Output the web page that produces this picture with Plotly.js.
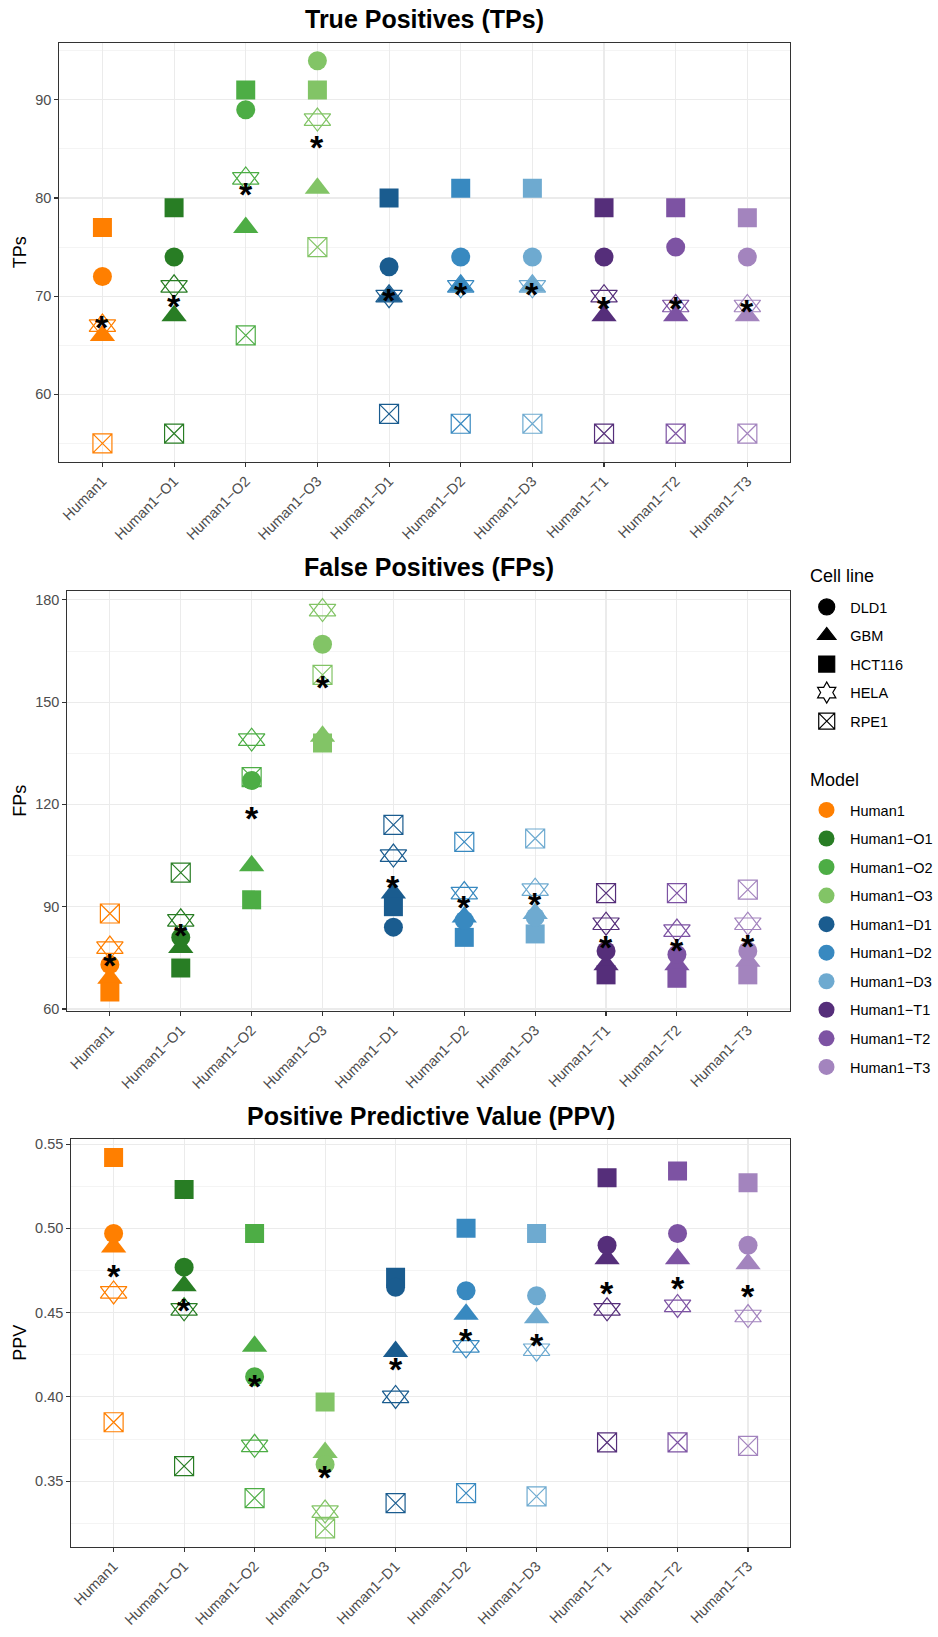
<!DOCTYPE html>
<html><head><meta charset="utf-8">
<script src="https://cdn.plot.ly/plotly-3.0.1.min.js"></script>
<style>html,body{margin:0;padding:0;background:#fff}</style>
</head><body><div id="chart" style="width:938px;height:1637px"></div>
<script>
// ---------------- data ----------------
const models = ["Human1","Human1\u2212O1","Human1\u2212O2","Human1\u2212O3","Human1\u2212D1","Human1\u2212D2","Human1\u2212D3","Human1\u2212T1","Human1\u2212T2","Human1\u2212T3"];
const modelColors = ["#FF7F00","#287D24","#4DAD45","#82C466","#1A5C8F","#3889C0","#6EAAD0","#552E7A","#7D53A3","#A384BE"];
const cellLines = ["DLD1","GBM","HCT116","HELA","RPE1"];

// True positives
const tpDLD1   = [72,74,89,94,73,74,74,74,75,74];
const tpGBM    = [66,68,77,81,70,71,71,68,68,68];
const tpHCT116 = [77,79,91,91,80,81,81,79,79,78];
const tpHELA   = [67,71,82,88,70,71,71,70,69,69];
const tpRPE1   = [55,56,66,75,58,57,57,56,56,56];
const tpMean   = [67.4,69.6,81.0,85.8,70.2,70.8,70.8,69.4,69.4,69.0];

// False positives
const fpDLD1   = [73,81,127,167,84,86,87,77,76,77];
const fpGBM    = [69,78,102,140,94,87,88,73,73,74];
const fpHCT116 = [65,72,92,138,90,81,82,70,69,70];
const fpHELA   = [78,86,139,177,105,94,95,85,83,85];
const fpRPE1   = [88,100,128,158,114,109,110,94,94,95];
const fpMean   = [74.6,83.4,117.6,156.0,97.4,91.4,92.4,79.8,79.0,80.2];

// Positive predictive value
const ppvDLD1   = [0.497,0.477,0.412,0.360,0.465,0.463,0.460,0.490,0.497,0.490];
const ppvGBM    = [0.489,0.466,0.430,0.367,0.427,0.449,0.447,0.482,0.482,0.479];
const ppvHCT116 = [0.542,0.523,0.497,0.397,0.471,0.500,0.497,0.530,0.534,0.527];
const ppvHELA   = [0.462,0.452,0.371,0.332,0.400,0.430,0.428,0.452,0.454,0.448];
const ppvRPE1   = [0.385,0.359,0.340,0.322,0.337,0.343,0.341,0.373,0.373,0.371];
const ppvMean   = [0.475,0.455,0.410,0.356,0.420,0.437,0.434,0.465,0.468,0.463];

const titles = ["True Positives (TPs)","False Positives (FPs)","Positive Predictive Value (PPV)"];
const yTitles = ["TPs","FPs","PPV"];
const legendTitles = ["Cell line","Model"];

// ---------------- build ----------------
const FONT = "Liberation Sans, Arial, Helvetica, sans-serif";
const W = 938, H = 1637;
const panels = [
  {d:{DLD1:tpDLD1,GBM:tpGBM,HCT116:tpHCT116,HELA:tpHELA,RPE1:tpRPE1}, mean:tpMean},
  {d:{DLD1:fpDLD1,GBM:fpGBM,HCT116:fpHCT116,HELA:fpHELA,RPE1:fpRPE1}, mean:fpMean},
  {d:{DLD1:ppvDLD1,GBM:ppvGBM,HCT116:ppvHCT116,HELA:ppvHELA,RPE1:ppvRPE1}, mean:ppvMean}
];

const traces = [];
const annotations = [];
panels.forEach((p, i) => {
  const s = i === 0 ? "" : String(i + 1);
  const xa = "x" + s, ya = "y" + s;
  const base = (y, symbol, size, open) => ({
    type: "scatter", mode: "markers", x: models, y: y, xaxis: xa, yaxis: ya,
    showlegend: false, hoverinfo: "x+y",
    marker: {symbol: symbol, size: size, color: modelColors, opacity: 1,
             line: {width: open ? 1.2 : 0, color: modelColors}}
  });
  traces.push(base(p.d.RPE1, "square-x-open", 19, true));
  traces.push(base(p.d.HELA, "triangle-up-open", 23, true));
  traces.push(base(p.d.HELA, "triangle-down-open", 23, true));
  traces.push(base(p.d.GBM, "triangle-up", 22, false));
  traces.push(base(p.d.HCT116, "square", 19, false));
  traces.push(base(p.d.DLD1, "circle", 19, false));
  p.mean.forEach((m, j) => {
    annotations.push({x: models[j], y: m, xref: xa, yref: ya, text: "<b>*</b>",
      showarrow: false, yshift: -5.5, font: {family: FONT, size: 34, color: "#000"}});
  });
});

// legend-only traces
const legSyms = ["circle","triangle-up","square","hexagram-open","square-x-open"];
cellLines.forEach((c, i) => {
  traces.push({type: "scatter", mode: "markers", x: [null], y: [null], name: c,
    legend: "legend", legendgroup: "c" + i, showlegend: true, hoverinfo: "skip",
    marker: {symbol: legSyms[i], size: 16, color: "#000", line: {width: 1.2, color: "#000"}}});
});
models.forEach((m, i) => {
  traces.push({type: "scatter", mode: "markers", x: [null], y: [null], name: m,
    legend: "legend2", legendgroup: "m" + i, showlegend: true, hoverinfo: "skip",
    marker: {symbol: "circle", size: 16, color: modelColors[i]}});
});

// titles
const titleY = [19.3, 567, 1115.6];
const panelX = [[60,798],[68,798],[72,798]];
const panelY = [[43,462],[591,1011],[1139,1547]];
titles.forEach((t, i) => {
  annotations.push({text: "<b>" + t + "</b>", xref: "paper", yref: "paper",
    x: (panelX[i][0] + panelX[i][1]) / 2 / W, y: 1 - titleY[i] / H,
    xanchor: "center", yanchor: "middle", showarrow: false,
    font: {family: FONT, size: 25, color: "#000"}});
});
// y-axis titles
yTitles.forEach((t, i) => {
  annotations.push({text: t, xref: "paper", yref: "paper", textangle: -90,
    x: 20 / W, y: 1 - (panelY[i][0] + panelY[i][1]) / 2 / H,
    xanchor: "center", yanchor: "middle", showarrow: false,
    font: {family: FONT, size: 18, color: "#000"}});
});
// legend titles
const legTitleY = [575.8, 779.5];
legendTitles.forEach((t, i) => {
  annotations.push({text: t, xref: "paper", yref: "paper",
    x: 816 / W, y: 1 - legTitleY[i] / H, xanchor: "left", yanchor: "middle",
    showarrow: false, font: {family: FONT, size: 18, color: "#000"}});
});

const xCommon = {
  type: "category", categoryorder: "array", categoryarray: models,
  range: [-0.6, 9.6], tickangle: -45, ticks: "outside", ticklen: 4, tickwidth: 1.1,
  tickcolor: "#333", showgrid: true, gridcolor: "#EBEBEB", gridwidth: 1.1,
  showline: true, mirror: true, linecolor: "#333", linewidth: 1.1, zeroline: false,
  tickfont: {family: FONT, size: 14.5, color: "#4D4D4D"}, fixedrange: true
};
const yRanges = [[53.1, 95.8], [59.4, 182.6], [0.311, 0.553]];
const yDticks = [10, 30, 0.05];
const yFormats = ["", "", ".2f"];

const layout = {
  width: W, height: H, margin: {l: 0, r: 0, t: 0, b: 0},
  paper_bgcolor: "#fff", plot_bgcolor: "#fff",
  font: {family: FONT, color: "#000"},
  showlegend: true,
  annotations: annotations,
  legend: {font: {size: 14.5, family: FONT},
    x: 811 / W, xanchor: "left", y: 1 - 591 / H, yanchor: "top",
    traceorder: "grouped", tracegroupgap: 6.7, itemwidth: 37, bgcolor: "rgba(0,0,0,0)"},
  legend2: {font: {size: 14.5, family: FONT},
    x: 811 / W, xanchor: "left", y: 1 - 794 / H, yanchor: "top",
    traceorder: "grouped", tracegroupgap: 6.7, itemwidth: 37, bgcolor: "rgba(0,0,0,0)"}
};
for (let i = 0; i < 3; i++) {
  const s = i === 0 ? "" : String(i + 1);
  layout["xaxis" + s] = Object.assign({}, xCommon, {
    domain: [panelX[i][0] / W, panelX[i][1] / W], anchor: "y" + s});
  layout["yaxis" + s] = {
    domain: [1 - panelY[i][1] / H, 1 - panelY[i][0] / H], anchor: "x" + s,
    range: yRanges[i], dtick: yDticks[i], tick0: 0, tickformat: yFormats[i],
    ticks: "outside", ticklen: 4, tickwidth: 1.1, tickcolor: "#333",
    showgrid: true, gridcolor: "#EBEBEB", gridwidth: 1.1,
    minor: {dtick: yDticks[i] / 2, showgrid: true, gridcolor: "#EBEBEB", gridwidth: 0.55, ticks: ""},
    showline: true, mirror: true, linecolor: "#333", linewidth: 1.1, zeroline: false,
    tickfont: {family: FONT, size: 14.5, color: "#4D4D4D"},
    fixedrange: true
  };
}

Plotly.newPlot("chart", traces, layout, {displayModeBar: false, staticPlot: true});
</script>
</body></html>
